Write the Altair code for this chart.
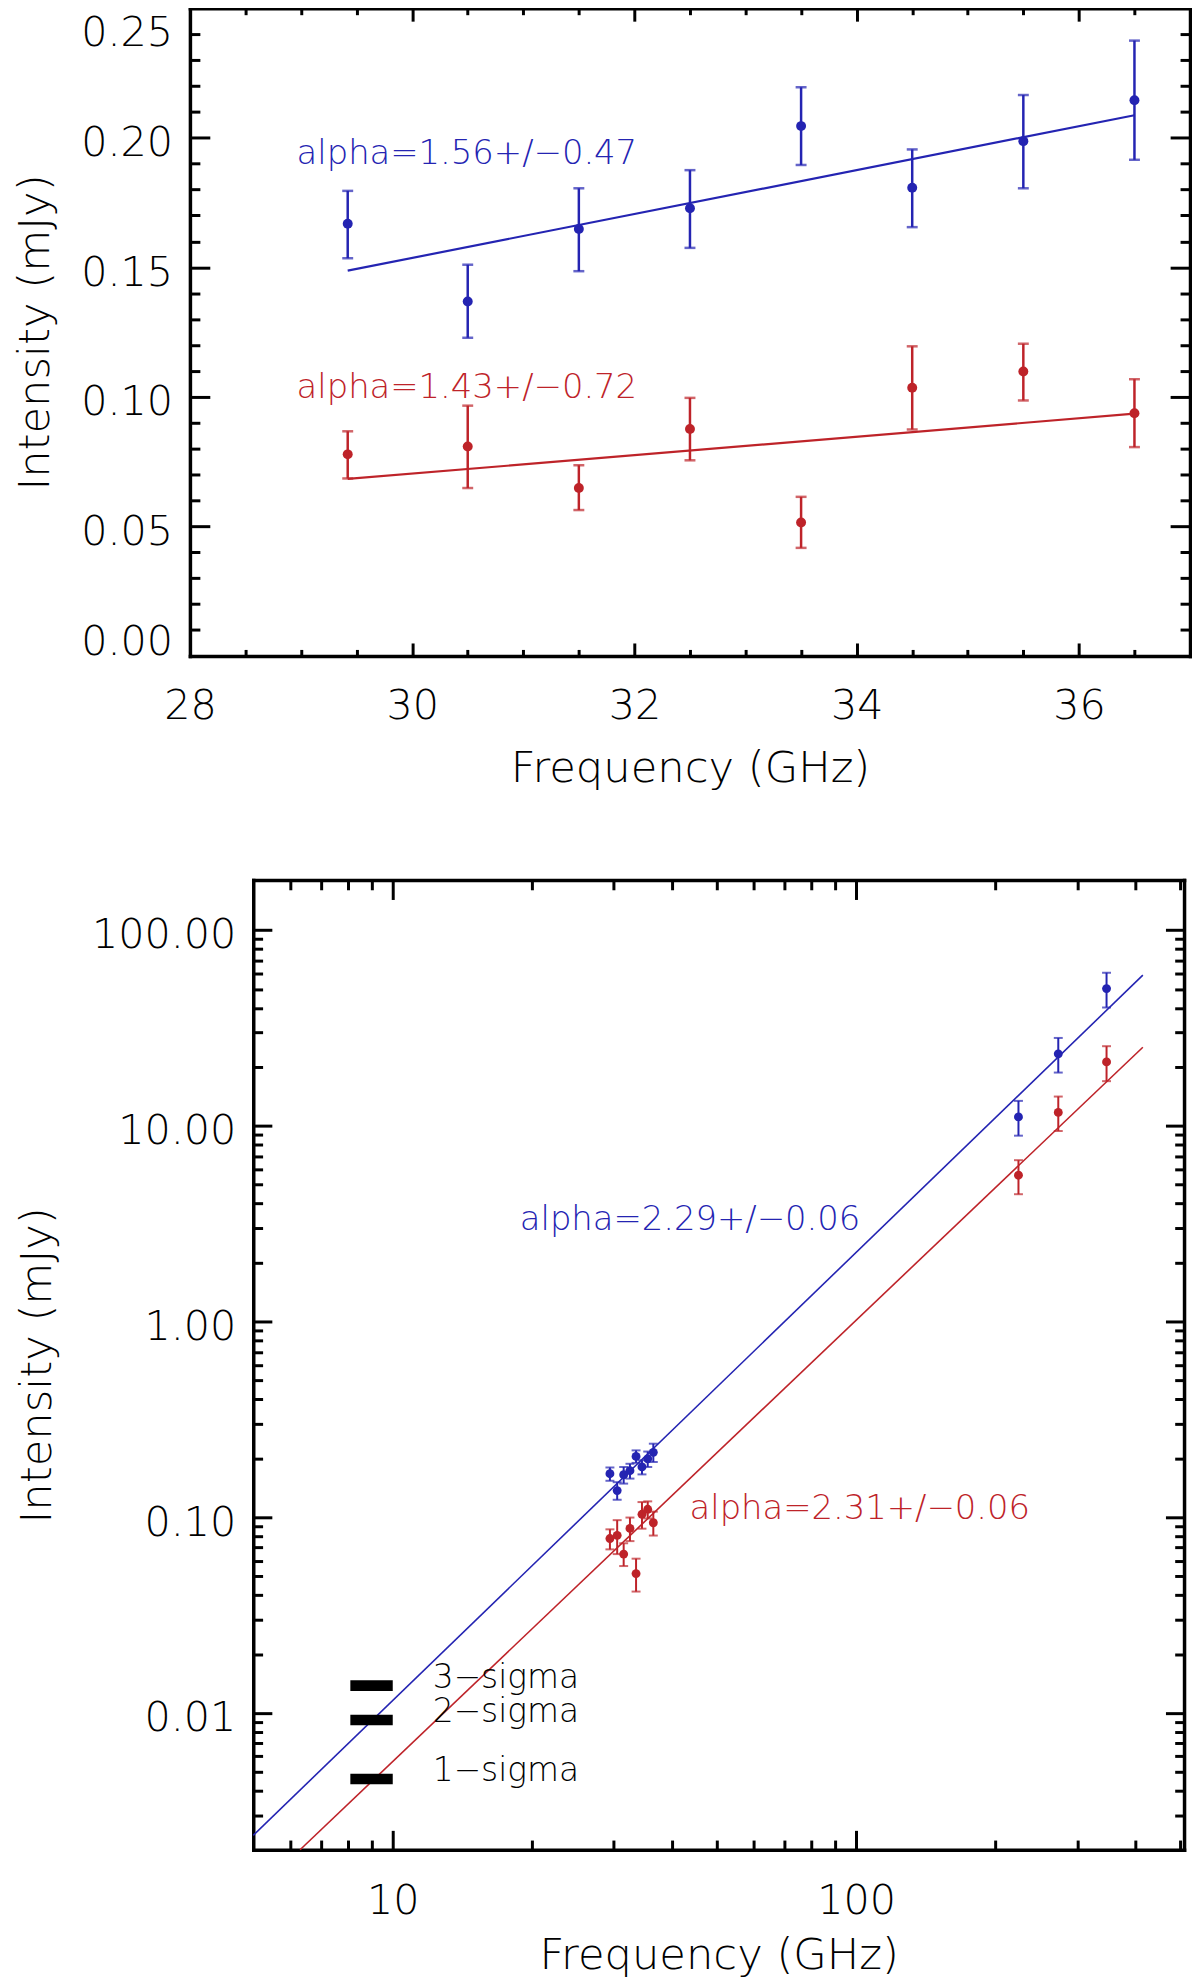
import altair as alt
import pandas as pd

FONT = "DejaVu Sans"
WEIGHT = 200
BLUE = "#2424b2"
RED = "#be2329"

# ---------------- top panel: 29-37 GHz ----------------
freq = [29.42, 30.5, 31.5, 32.5, 33.5, 34.5, 35.5, 36.5]
blue_val = [0.1668, 0.1368, 0.1648, 0.1728, 0.2045, 0.1807, 0.1987, 0.2145]
blue_hi = [0.1795, 0.1510, 0.1805, 0.1875, 0.2195, 0.1955, 0.2165, 0.2375]
blue_lo = [0.1535, 0.1228, 0.1485, 0.1575, 0.1895, 0.1655, 0.1805, 0.1915]
red_val = [0.0778, 0.0808, 0.0648, 0.0876, 0.0515, 0.1035, 0.1098, 0.0937]
red_hi = [0.0867, 0.0966, 0.0736, 0.0996, 0.0614, 0.1195, 0.1205, 0.1068]
red_lo = [0.0685, 0.0648, 0.0563, 0.0755, 0.0417, 0.0874, 0.0986, 0.0806]

fit_top_f = [29.42, 36.5]
fit_top_blue = [0.1487, 0.2087]
fit_top_red = [0.0683, 0.0935]

alpha_top_text = ["alpha=1.56+/\u22120.47", "alpha=1.43+/\u22120.72"]
alpha_top_f = [28.96, 28.96]
alpha_top_v = [0.1898, 0.0994]

top_x_labels = [28, 30, 32, 34, 36]
top_y_labels = [0.0, 0.05, 0.10, 0.15, 0.20, 0.25]
top_x_ticks = [28.5, 29.0, 29.5, 30.0, 30.5, 31.0, 31.5, 32.0, 32.5, 33.0, 33.5,
               34.0, 34.5, 35.0, 35.5, 36.0, 36.5]
top_y_ticks = [0.01, 0.02, 0.03, 0.04, 0.05, 0.06, 0.07, 0.08, 0.09, 0.10, 0.11, 0.12,
               0.13, 0.14, 0.15, 0.16, 0.17, 0.18, 0.19, 0.20, 0.21, 0.22, 0.23, 0.24]

# ---------------- bottom panel: 5-500 GHz, log-log ----------------
freq_hi = [224, 273, 347]
blue_val_hi = [11.1, 23.3, 50.2]
blue_hi_hi = [13.4, 28.1, 60.5]
blue_lo_hi = [8.9, 18.7, 40.2]
red_val_hi = [5.59, 11.7, 21.2]
red_hi_hi = [6.67, 14.1, 25.5]
red_lo_hi = [4.47, 9.4, 16.9]

fit_bot_blue_f = [5.0, 415.6]
fit_bot_blue_v = [0.00237, 58.8]
fit_bot_red_f = [6.31, 415.6]
fit_bot_red_v = [0.002, 25.2]

alpha_bot_text = ["alpha=2.29+/\u22120.06", "alpha=2.31+/\u22120.06"]
alpha_bot_f = [18.8, 43.7]
alpha_bot_v = [2.94, 0.0974]

sigma_text = ["3\u2212sigma", "2\u2212sigma", "1\u2212sigma"]
sigma_vals = [0.0138, 0.0092, 0.0046]
sigma_f0 = 8.1
sigma_f1 = 10.0
sigma_text_f = 12.2

bot_x_labels = [10, 100]
bot_y_labels = [0.01, 0.1, 1, 10, 100]
bot_x_ticks = [6, 7, 8, 9, 10, 20, 30, 40, 50, 60, 70, 80, 90, 100, 200, 300, 400, 500]
bot_y_ticks = [0.003, 0.004, 0.005, 0.006, 0.007, 0.008, 0.009,
               0.01, 0.02, 0.03, 0.04, 0.05, 0.06, 0.07, 0.08, 0.09,
               0.1, 0.2, 0.3, 0.4, 0.5, 0.6, 0.7, 0.8, 0.9,
               1, 2, 3, 4, 5, 6, 7, 8, 9,
               10, 20, 30, 40, 50, 60, 70, 80, 90, 100]

# ---------------- layout constants ----------------
W1, H1 = 1006, 651.5
W2, H2 = 1000, 975.4
LEFT2 = 63.7  # bottom panel frame starts this far right of the top panel frame
LABEL_FS = 41.5
TITLE_FS = 43.5

color_scale = alt.Scale(domain=["blue", "red", "black"], range=[BLUE, RED, "black"])


def label_axis(orient, values, fmt, title, label_padding, title_padding,
               offset=0, flush=False, label_offset=0, flush_offset=0):
    return alt.Axis(orient=orient, values=values, format=fmt, title=title,
                    labelPadding=label_padding, titlePadding=title_padding,
                    ticks=False, tickSize=0, domain=True, domainWidth=3.5,
                    domainColor="black", domainCap="square", grid=False,
                    labelFont=FONT, labelFontSize=LABEL_FS, labelColor="black",
                    labelFontWeight=WEIGHT, labelOverlap=False, labelFlush=flush,
                    labelFlushOffset=flush_offset, labelOffset=label_offset,
                    titleFont=FONT, titleFontSize=TITLE_FS, titleFontWeight=WEIGHT,
                    titleColor="black", offset=offset)


def tick_axis(orient, offset, values, test, major, minor, domain):
    return alt.Axis(orient=orient, offset=offset, values=values, labels=False,
                    title=None, grid=False, ticks=True,
                    tickSize={"condition": {"test": test, "value": major}, "value": minor},
                    tickWidth=3, tickColor="black", domain=domain,
                    domainWidth=3.5, domainColor="black", domainCap="square")


def series(f, v, hi, lo, name):
    return pd.DataFrame({"f": f, "v": v, "hi": hi, "lo": lo, "s": name})


def caps(df):
    a = df[["f", "hi", "s"]].rename(columns={"hi": "c"})
    b = df[["f", "lo", "s"]].rename(columns={"lo": "c"})
    return pd.concat([a, b], ignore_index=True)


# ================= top chart =================
top_df = pd.concat([series(freq, blue_val, blue_hi, blue_lo, "blue"),
                    series(freq, red_val, red_hi, red_lo, "red")], ignore_index=True)
top_caps = caps(top_df)
top_fit = pd.DataFrame({"f": fit_top_f * 2, "v": fit_top_blue + fit_top_red,
                        "s": ["blue", "blue", "red", "red"]})
top_txt = pd.DataFrame({"f": alpha_top_f, "v": alpha_top_v, "t": alpha_top_text,
                        "s": ["blue", "red"]})

xs1 = alt.Scale(domain=[28, 37], nice=False, zero=False)
ys1 = alt.Scale(domain=[0, 0.25], nice=False, zero=False)
col = alt.Color("s:N", scale=color_scale, legend=None)

tx_major = "abs(datum.value/2 - round(datum.value/2)) < 0.001"
ty_major = "abs(datum.value/0.05 - round(datum.value/0.05)) < 0.001"

t_pts = alt.Chart(top_df).mark_circle(size=100, opacity=1).encode(
    x=alt.X("f:Q", scale=xs1, axis=label_axis("bottom", top_x_labels, "d",
                                               "Frequency (GHz)", 29.5, 21)),
    y=alt.Y("v:Q", scale=ys1, axis=label_axis(
        "left", top_y_labels, ".2f", "Intensity (mJy)", 17.5, 23, flush=True,
        label_offset=6, flush_offset=2)),
    color=col)

t_rules = alt.Chart(top_df).mark_rule(strokeWidth=2.5).encode(
    x=alt.X("f:Q", scale=xs1, axis=tick_axis("top", -H1, top_x_ticks, tx_major, 13, 6.5, False)),
    y=alt.Y("lo:Q", scale=ys1, axis=tick_axis("right", -W1, top_y_ticks, ty_major, 20, 10, False)),
    y2="hi:Q", color=col)

t_caps = alt.Chart(top_caps).mark_tick(orient="horizontal", size=11, thickness=2.5).encode(
    x=alt.X("f:Q", scale=xs1, axis=tick_axis("bottom", -H1, top_x_ticks, tx_major, 13, 6.5, True)),
    y=alt.Y("c:Q", scale=ys1, axis=tick_axis("left", -W1, top_y_ticks, ty_major, 20, 10, True)),
    color=col)

t_fit = alt.Chart(top_fit).mark_line(strokeWidth=2.2).encode(
    x=alt.X("f:Q", scale=xs1, axis=None), y=alt.Y("v:Q", scale=ys1, axis=None),
    color=col, detail="s:N")

t_txt = alt.Chart(top_txt).mark_text(align="left", baseline="alphabetic", font=FONT,
                                     fontSize=34, fontWeight=WEIGHT).encode(
    x=alt.X("f:Q", scale=xs1, axis=None), y=alt.Y("v:Q", scale=ys1, axis=None),
    text="t:N", color=col)

top = alt.layer(t_pts, t_rules, t_caps, t_fit, t_txt).resolve_axis(
    x="independent", y="independent").properties(width=W1, height=H1)

# ================= bottom chart =================
bot_df = pd.concat([series(freq + freq_hi, blue_val + blue_val_hi, blue_hi + blue_hi_hi,
                           blue_lo + blue_lo_hi, "blue"),
                    series(freq + freq_hi, red_val + red_val_hi, red_hi + red_hi_hi,
                           red_lo + red_lo_hi, "red")], ignore_index=True)
bot_caps = caps(bot_df)
bot_fit = pd.DataFrame({"f": fit_bot_blue_f + fit_bot_red_f,
                        "v": fit_bot_blue_v + fit_bot_red_v,
                        "s": ["blue", "blue", "red", "red"]})
bot_alpha = pd.DataFrame({"f": alpha_bot_f, "v": alpha_bot_v, "t": alpha_bot_text,
                          "s": ["blue", "red"]})
bot_sigtxt = pd.DataFrame({"f": [sigma_text_f] * 3, "v": sigma_vals, "t": sigma_text,
                           "s": ["black"] * 3})
bot_sig = pd.DataFrame({"f0": [sigma_f0] * 3, "f1": [sigma_f1] * 3, "v": sigma_vals})

xs2 = alt.Scale(type="log", domain=[5, 510], range=[LEFT2, W2], nice=False)
ys2 = alt.Scale(type="log", domain=[0.002, 180], nice=False)
log_major = "abs(log(datum.value)/LN10 - round(log(datum.value)/LN10)) < 0.001"

b_pts = alt.Chart(bot_df).mark_circle(size=80, opacity=1).encode(
    x=alt.X("f:Q", scale=xs2, axis=label_axis("bottom", bot_x_labels, "d",
                                               "Frequency (GHz)", 31, 13.4)),
    y=alt.Y("v:Q", scale=ys2, axis=label_axis("left", bot_y_labels, ".2f",
                                               "Intensity (mJy)", 17.5, 32.5,
                                               offset=-LEFT2, label_offset=6)),
    color=col)

b_rules = alt.Chart(bot_df).mark_rule(strokeWidth=2).encode(
    x=alt.X("f:Q", scale=xs2, axis=tick_axis("top", -H2, bot_x_ticks, log_major, 19.5, 9.75, False)),
    y=alt.Y("lo:Q", scale=ys2, axis=tick_axis("right", LEFT2 - W2, bot_y_ticks, log_major, 18.7, 9.4, False)),
    y2="hi:Q", color=col)

b_caps = alt.Chart(bot_caps).mark_tick(orient="horizontal", size=9, thickness=2).encode(
    x=alt.X("f:Q", scale=xs2, axis=tick_axis("bottom", -H2, bot_x_ticks, log_major, 19.5, 9.75, True)),
    y=alt.Y("c:Q", scale=ys2, axis=tick_axis("left", -W2, bot_y_ticks, log_major, 18.7, 9.4, True)),
    color=col)

b_fit = alt.Chart(bot_fit).mark_line(strokeWidth=1.6).encode(
    x=alt.X("f:Q", scale=xs2, axis=None), y=alt.Y("v:Q", scale=ys2, axis=None),
    color=col, detail="s:N")

b_sig = alt.Chart(bot_sig).mark_rule(strokeWidth=10.7, color="black").encode(
    x=alt.X("f0:Q", scale=xs2, axis=None), x2="f1:Q",
    y=alt.Y("v:Q", scale=ys2, axis=None))

b_alpha = alt.Chart(bot_alpha).mark_text(align="left", baseline="alphabetic", font=FONT,
                                         fontSize=34, fontWeight=WEIGHT).encode(
    x=alt.X("f:Q", scale=xs2, axis=None), y=alt.Y("v:Q", scale=ys2, axis=None),
    text="t:N", color=col)

b_sigtxt = alt.Chart(bot_sigtxt).mark_text(align="left", baseline="alphabetic", dy=2,
                                           font=FONT, fontSize=33, fontWeight=WEIGHT).encode(
    x=alt.X("f:Q", scale=xs2, axis=None), y=alt.Y("v:Q", scale=ys2, axis=None),
    text="t:N", color=col)

bottom = alt.layer(b_pts, b_rules, b_caps, b_fit, b_sig, b_alpha, b_sigtxt).resolve_axis(
    x="independent", y="independent").properties(width=W2, height=H2)

chart = alt.vconcat(top, bottom, spacing=89).properties(
    padding={"left": 6, "top": -7.6, "right": 0, "bottom": 0}
).configure_view(stroke=None)

chart.save("out.html", embed_options={"renderer": "svg", "actions": False})
